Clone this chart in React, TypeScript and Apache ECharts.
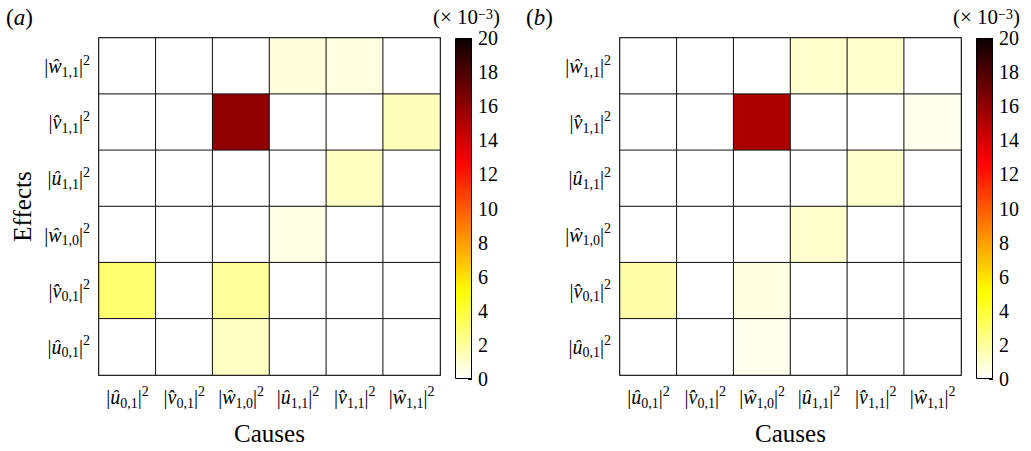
import React, { useEffect, useRef } from "react";
import * as echarts from "echarts";

// Categories (causes along x, effects along y from top to bottom)
const causeSyms = ["û", "v̂", "ŵ", "û", "v̂", "ŵ"];
const causeSubs = ["0,1", "0,1", "1,0", "1,1", "1,1", "1,1"];
const effectSyms = ["ŵ", "v̂", "û", "ŵ", "v̂", "û"];
const effectSubs = ["1,1", "1,1", "1,1", "1,0", "0,1", "0,1"];

// values (×10^-3), rows = effects top→bottom, cols = causes
const valuesA = [
  [0, 0, 0, 0.7, 0.6, 0],
  [0, 0, 16.0, 0, 0, 1.35],
  [0, 0, 0, 0, 1.25, 0],
  [0, 0, 0, 0.5, 0, 0],
  [2.85, 0, 2.0, 0, 0, 0],
  [0, 0, 1.2, 0, 0, 0],
];
const valuesB = [
  [0, 0, 0, 1.0, 1.0, 0],
  [0, 0, 15.2, 0, 0, 0.35],
  [0, 0, 0, 0, 1.0, 0],
  [0, 0, 0, 1.0, 0, 0],
  [1.7, 0, 0.6, 0, 0, 0],
  [0, 0, 0.35, 0, 0, 0],
];
const colorMin = 0;
const colorMax = 20;
const colorInterval = 2;

const SERIF = "Liberation Serif";

// reversed "hot" colormap
function hotR(s: number): string {
  const t = 1 - s;
  const cl = (v: number) => Math.max(0, Math.min(1, v));
  const r = cl(0.0416 + (t * (1 - 0.0416)) / 0.365079);
  const g = cl((t - 0.365079) / (0.746032 - 0.365079));
  const b = cl((t - 0.746032) / (1 - 0.746032));
  return `rgb(${Math.round(r * 255)},${Math.round(g * 255)},${Math.round(b * 255)})`;
}
const NSTOP = 101;
const cmapColors = Array.from({ length: NSTOP }, (_, i) => hotR(i / (NSTOP - 1)));

const rich = {
  n: { fontFamily: SERIF, fontSize: 20, lineHeight: 26, color: "#000" },
  i: { fontFamily: SERIF, fontStyle: "italic", fontSize: 20, lineHeight: 26, color: "#000" },
  s: { fontFamily: SERIF, fontSize: 14, lineHeight: 13, verticalAlign: "bottom", color: "#000" },
  p: { fontFamily: SERIF, fontSize: 14, lineHeight: 15, verticalAlign: "top", color: "#000" },
};

const mathLabel = (sym: string, sub: string) =>
  `{n||}{i|${sym}}{s|${sub}}{n||}{p|2}`;

function heatData(vals: number[][]) {
  const out: number[][] = [];
  vals.forEach((row, r) => row.forEach((v, c) => out.push([c, r, v])));
  return out;
}

const GRID_TOP = 38;
const GRID_H = 341;
const panels = [
  { left: 99, cbLeft: 455, vals: valuesA, tag: "a", showEffects: true },
  { left: 620, cbLeft: 976, vals: valuesB, tag: "b", showEffects: false },
];

export default function App() {
  const ref = useRef<HTMLDivElement>(null);
  useEffect(() => {
    if (!ref.current) return;
    const chart = echarts.init(ref.current, null, { renderer: "svg" });
    const grids: any[] = [];
    const xAxes: any[] = [];
    const yAxes: any[] = [];
    const series: any[] = [];
    const graphics: any[] = [];
    const causeCats = causeSyms.map((s, i) => s + causeSubs[i]);
    const effectCats = effectSyms.map((s, i) => s + effectSubs[i]);
    const tick = { show: true, inside: true, alignWithLabel: true, length: 4, lineStyle: { color: "#999" } };

    panels.forEach((p, k) => {
      const g = grids.length;
      grids.push({ left: p.left, top: GRID_TOP, width: 341, height: GRID_H });
      grids.push({ left: p.cbLeft, top: GRID_TOP, width: 17, height: GRID_H });
      const xi = xAxes.length;
      xAxes.push({
        type: "category",
        gridIndex: g,
        data: causeCats,
        position: "bottom",
        axisLine: { lineStyle: { color: "#000", width: 1.5 } },
        axisTick: tick,
        axisLabel: {
          interval: 0,
          margin: 9,
          formatter: (_v: string, idx: number) => mathLabel(causeSyms[idx], causeSubs[idx]),
          rich,
        },
        name: "Causes",
        nameLocation: "middle",
        nameGap: 46,
        nameTextStyle: { fontFamily: SERIF, fontSize: 25, color: "#000" },
        splitLine: { show: false },
      });
      xAxes.push({
        type: "category",
        gridIndex: g,
        data: causeCats,
        position: "top",
        axisLine: { lineStyle: { color: "#000", width: 1.5 } },
        axisTick: tick,
        axisLabel: { show: false },
      });
      xAxes.push({ type: "category", gridIndex: g + 1, data: ["c"], show: false });
      const yi = yAxes.length;
      yAxes.push({
        type: "category",
        gridIndex: g,
        data: effectCats,
        inverse: true,
        position: "left",
        axisLine: { lineStyle: { color: "#000", width: 1.5 } },
        axisTick: tick,
        axisLabel: {
          interval: 0,
          margin: 9,
          formatter: (_v: string, idx: number) => mathLabel(effectSyms[idx], effectSubs[idx]),
          rich,
        },
        name: p.showEffects ? "Effects" : "",
        nameLocation: "middle",
        nameGap: 64,
        nameTextStyle: { fontFamily: SERIF, fontSize: 25, color: "#000" },
      });
      yAxes.push({
        type: "category",
        gridIndex: g,
        data: effectCats,
        inverse: true,
        position: "right",
        axisLine: { lineStyle: { color: "#000", width: 1.5 } },
        axisTick: tick,
        axisLabel: { show: false },
      });
      yAxes.push({
        type: "value",
        gridIndex: g + 1,
        min: colorMin,
        max: colorMax,
        interval: colorInterval,
        position: "right",
        axisLine: { show: false },
        axisTick: { show: true, inside: true, length: 4, lineStyle: { color: "#000" } },
        axisLabel: { margin: 6, fontFamily: SERIF, fontSize: 20, lineHeight: 16, color: "#000" },
        splitLine: { show: false },
      });
      series.push({
        type: "heatmap",
        xAxisIndex: xi,
        yAxisIndex: yi,
        data: heatData(p.vals),
        itemStyle: { borderColor: "#111", borderWidth: 1 },
        emphasis: { disabled: true },
        z: 2,
      });
      const stops = cmapColors
        .map((c, i) => ({ offset: 1 - i / (NSTOP - 1), color: c }))
        .reverse();
      series.push({
        type: "bar",
        xAxisIndex: xi + 2,
        yAxisIndex: yi + 2,
        data: [colorMax],
        barWidth: "100%",
        itemStyle: {
          color: new echarts.graphic.LinearGradient(0, 0, 0, 1, stops),
          borderColor: "#000",
          borderWidth: 1,
        },
        emphasis: { disabled: true },
      });
      const off = k === 0 ? 0 : 520;
      graphics.push({
        type: "text",
        x: 6 + off,
        y: 17,
        style: {
          text: `{n|(}{i|${p.tag}}{n|)}`,
          rich: {
            n: { fontFamily: SERIF, fontSize: 23, color: "#000" },
            i: { fontFamily: SERIF, fontSize: 23, fontStyle: "italic", color: "#000" },
          },
          verticalAlign: "middle",
          align: "left",
        },
      });
      graphics.push({
        type: "text",
        x: 500 + off,
        y: 17,
        style: {
          text: "{n|(× 10}{p|−3}{n|)}",
          rich: {
            n: { fontFamily: SERIF, fontSize: 21, lineHeight: 19, color: "#000" },
            p: { fontFamily: SERIF, fontSize: 14, lineHeight: 12, verticalAlign: "top", color: "#000" },
          },
          verticalAlign: "middle",
          align: "right",
        },
      });
    });

    chart.setOption({
      animation: false,
      backgroundColor: "#fff",
      grid: grids,
      xAxis: xAxes,
      yAxis: yAxes,
      visualMap: {
        type: "continuous",
        show: false,
        min: colorMin,
        max: colorMax,
        seriesIndex: [0, 2],
        inRange: { color: cmapColors },
      },
      series,
      graphic: graphics,
    });
    return () => chart.dispose();
  }, []);
  return (
    <div
      ref={ref}
      style={{ position: "fixed", left: 0, top: 0, width: 1031, height: 451 }}
    />
  );
}
